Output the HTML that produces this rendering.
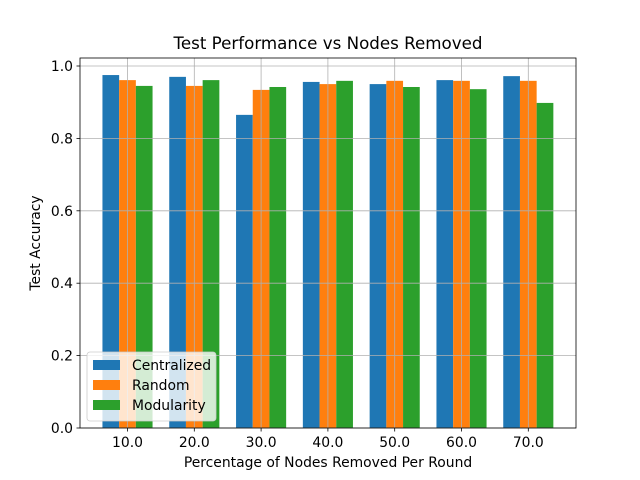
<!DOCTYPE html>
<html><head><meta charset="utf-8"><style>body{margin:0;background:#fff}svg{display:block;font-family:"DejaVu Sans","Liberation Sans",sans-serif}</style></head>
<body>
<svg id="chart" width="640" height="480"></svg>
<script>
const categories=["10.0","20.0","30.0","40.0","50.0","60.0","70.0"];
const centralized=[0.975,0.970,0.865,0.956,0.950,0.961,0.972];
const randomVals=[0.961,0.945,0.934,0.950,0.959,0.959,0.959];
const modularity=[0.945,0.961,0.942,0.959,0.942,0.936,0.898];
const yTicks=[0,0.2,0.4,0.6,0.8,1.0];
const seriesNames=["Centralized","Random","Modularity"];
const colors=["#1f77b4","#ff7f0e","#2ca02c"];
const NS="http://www.w3.org/2000/svg";
const svg=document.getElementById('chart');
const L=80,R=576,T=58,B=428;
const sx=i=>127.5+i*66.8;
const sy=v=>B-v*362;
function mk(t,a,p){const e=document.createElementNS(NS,t);for(const k in a)e.setAttribute(k,a[k]);(p||svg).appendChild(e);return e;}
// bars
const bw=16.7;
[centralized,randomVals,modularity].forEach((s,k)=>{s.forEach((v,i)=>{
const r=mk('rect',{x:sx(i)+(k-1)*bw-bw/2,y:sy(v),width:bw,height:B-sy(v),fill:colors[k]});

});});
// grid (on top)
yTicks.forEach(v=>{const g=mk('line',{x1:L,x2:R,y1:sy(v),y2:sy(v),stroke:'#b0b0b0','stroke-width':0.8});

});
categories.forEach((c,i)=>{const g=mk('line',{x1:sx(i),x2:sx(i),y1:T,y2:B,stroke:'#b0b0b0','stroke-width':0.8});

});
// axes frame
const f=mk('rect',{x:L,y:T,width:R-L,height:B-T,fill:'none',stroke:'#000','stroke-width':0.8});


yTicks.forEach(v=>{mk('line',{x1:L-3.5,x2:L,y1:sy(v),y2:sy(v),stroke:'#000','stroke-width':0.8});
const t=mk('text',{x:L-7,y:sy(v)+5,'text-anchor':'end','font-size':13.9});t.textContent=v.toFixed(1);

});
categories.forEach((c,i)=>{mk('line',{x1:sx(i),x2:sx(i),y1:B,y2:B+3.5,stroke:'#000','stroke-width':0.8});
const t=mk('text',{x:sx(i),y:B+19,'text-anchor':'middle','font-size':13.9});t.textContent=c;

});
let t=mk('text',{x:328,y:49,'text-anchor':'middle','font-size':16.7});t.textContent='Test Performance vs Nodes Removed';


t=mk('text',{x:328,y:467,'text-anchor':'middle','font-size':13.9});t.textContent='Percentage of Nodes Removed Per Round';


t=mk('text',{x:40,y:243,'text-anchor':'middle','font-size':13.9,transform:'rotate(-90 40 243)'});t.textContent='Test Accuracy';


// legend
const lg=mk('rect',{x:87,y:352,width:129,height:69,rx:3,fill:'#fff','fill-opacity':0.8,stroke:'#ccc','stroke-width':0.8});


seriesNames.forEach((n,k)=>{const y=360+k*20;
const r=mk('rect',{x:93,y:y,width:27,height:10,fill:colors[k]});


const tx=mk('text',{x:132,y:y+10,'font-size':13.9});tx.textContent=n;

});
</script>
</body></html>
